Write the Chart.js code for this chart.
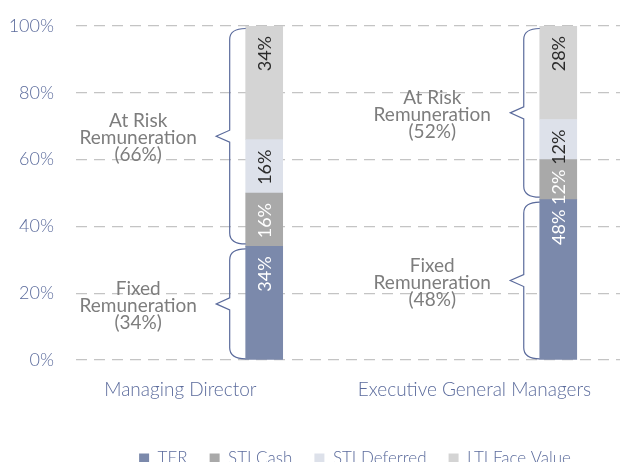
<!DOCTYPE html>
<html>
<head>
<meta charset="utf-8">
<script src="https://cdn.jsdelivr.net/npm/chart.js@4.4.0/dist/chart.umd.min.js"></script>
<style>
  html, body { margin: 0; padding: 0; background: #fff; }
  #wrap { width: 620px; height: 462px; overflow: hidden; }
</style>
</head>
<body>
<div id="wrap"><canvas id="remu" width="620" height="477"></canvas></div>
<script>
// données du graphique
const categories = ['Managing Director', 'Executive General Managers'];
const seriesNames = ['TER', 'STI Cash', 'STI Deferred', 'LTI Face Value'];
const terValues = [34, 48];
const stiCashValues = [16, 12];
const stiDeferredValues = [16, 12];
const ltiValues = [34, 28];
const yTicks = [0, 20, 40, 60, 80, 100];

const colors = ['#7b89ab', '#a9a9a9', '#dde1ea', '#d4d4d4'];
const labelColors = ['#ffffff', '#ffffff', '#2b2b2b', '#2b2b2b'];
const blueText = '#5b6b9c';

function toPoints(values) {
    return values.map((v, i) => ({ x: i + 1, y: v }));
}

// accolades + textes + valeurs dans les barres
const bracePlugin = {
    id: 'braces',
    afterLayout(chart) {
        // légende un peu décalée vers la droite
        if (chart.legend) {
            chart.legend.left += 7;
            chart.legend.right += 7;
        }
    },
    afterDatasetsDraw(chart) {
        const ctx = chart.ctx;
        const n = chart.data.datasets.length;

        // valeurs verticales
        chart.data.datasets.forEach((ds, d) => {
            const meta = chart.getDatasetMeta(d);
            meta.data.forEach((el, i) => {
                const top = Math.min(el.y, el.base);
                ctx.save();
                ctx.translate(el.x + 1, top + 10);
                ctx.rotate(-Math.PI / 2);
                ctx.font = '18px Lato';
                ctx.fillStyle = labelColors[d];
                ctx.textAlign = 'right';
                ctx.textBaseline = 'middle';
                ctx.fillText(ds.data[i].y + '%', 0, 0);
                ctx.restore();
            });
        });

        const terMeta = chart.getDatasetMeta(0);
        const topMeta = chart.getDatasetMeta(n - 1);
        categories.forEach((c, i) => {
            const ter = terMeta.data[i];
            const top = topMeta.data[i];
            const left = ter.x - ter.width / 2;
            const atRisk = stiCashValues[i] + stiDeferredValues[i] + ltiValues[i];
            drawBrace(ctx, left, top.y + 2.5, ter.y - 2.5, ['At Risk', 'Remuneration', '(' + atRisk + '%)']);
            drawBrace(ctx, left, ter.y + 2.5, ter.base - 0.5, ['Fixed', 'Remuneration', '(' + terValues[i] + '%)']);
        });
    }
};

function drawBrace(ctx, x0, y1, y2, lines) {
    const xv = x0 - 16;
    const xt = x0 - 29.5;
    const r = 11;
    const ym = (y1 + y2) / 2;
    ctx.save();
    ctx.strokeStyle = blueText;
    ctx.lineWidth = 1.2;
    ctx.beginPath();
    ctx.moveTo(x0, y1);
    ctx.quadraticCurveTo(xv, y1, xv, y1 + r);
    ctx.lineTo(xv, ym - 6);
    ctx.lineTo(xt, ym);
    ctx.lineTo(xv, ym + 6);
    ctx.lineTo(xv, y2 - r);
    ctx.quadraticCurveTo(xv, y2, x0, y2);
    ctx.stroke();

    ctx.font = '19px Lato';
    ctx.fillStyle = '#7d7d7d';
    ctx.textAlign = 'center';
    ctx.textBaseline = 'middle';
    lines.forEach((t, k) => {
        ctx.fillText(t, xt - 78, ym + 2 + (k - 1) * 17);
    });
    ctx.restore();
}

function makeChart() {
    const context = document.getElementById('remu').getContext('2d');

    const values = [terValues, stiCashValues, stiDeferredValues, ltiValues];
    const datasets = seriesNames.map((name, k) => ({
        label: name,
        data: toPoints(values[k]),
        backgroundColor: colors[k],
        borderWidth: 0,
        barThickness: 37
    }));

    const config = {
        type: 'bar',
        data: { datasets: datasets },
        options: {
            responsive: false,
            animation: false,
            layout: { padding: { top: 26, left: 0, right: 0, bottom: 0 } },
            scales: {
                x: {
                    type: 'linear',
                    stacked: true,
                    offset: false,
                    bounds: 'data',
                    min: 0.36,
                    max: 2.21,
                    grid: { display: false, offset: false },
                    border: { display: false },
                    afterBuildTicks: (scale) => {
                        scale.ticks = categories.map((c, i) => ({ value: i + 1 - 0.285 }));
                    },
                    afterFit: (scale) => { scale.height = 68; },
                    ticks: {
                        padding: 10,
                        color: blueText,
                        font: { family: 'Lato', size: 19, weight: 300 },
                        callback: (v, idx) => categories[idx]
                    }
                },
                y: {
                    stacked: true,
                    min: 0,
                    max: 100,
                    afterBuildTicks: (scale) => {
                        scale.ticks = yTicks.map(v => ({ value: v }));
                    },
                    afterFit: (scale) => {
                        scale.width = 76;
                        scale.paddingTop = 0;
                        scale.paddingBottom = 0;
                    },
                    grid: {
                        color: '#c4c4c4',
                        lineWidth: 1.3,
                        drawTicks: false
                    },
                    border: { display: false, dash: [11, 7] },
                    ticks: {
                        padding: 22,
                        color: blueText,
                        font: { family: 'Lato', size: 18, weight: 300 },
                        callback: (v) => v + '%'
                    }
                }
            },
            plugins: {
                tooltip: { enabled: false },
                legend: {
                    position: 'bottom',
                    fullSize: false,
                    labels: {
                        boxWidth: 10,
                        boxHeight: 10,
                        padding: 22,
                        color: blueText,
                        font: { family: 'Lato', size: 17, weight: 300 }
                    }
                }
            }
        },
        plugins: [bracePlugin]
    };

    new Chart(context, config);
}

window.addEventListener('load', () => {
    makeChart();
});
</script>
</body>
</html>
